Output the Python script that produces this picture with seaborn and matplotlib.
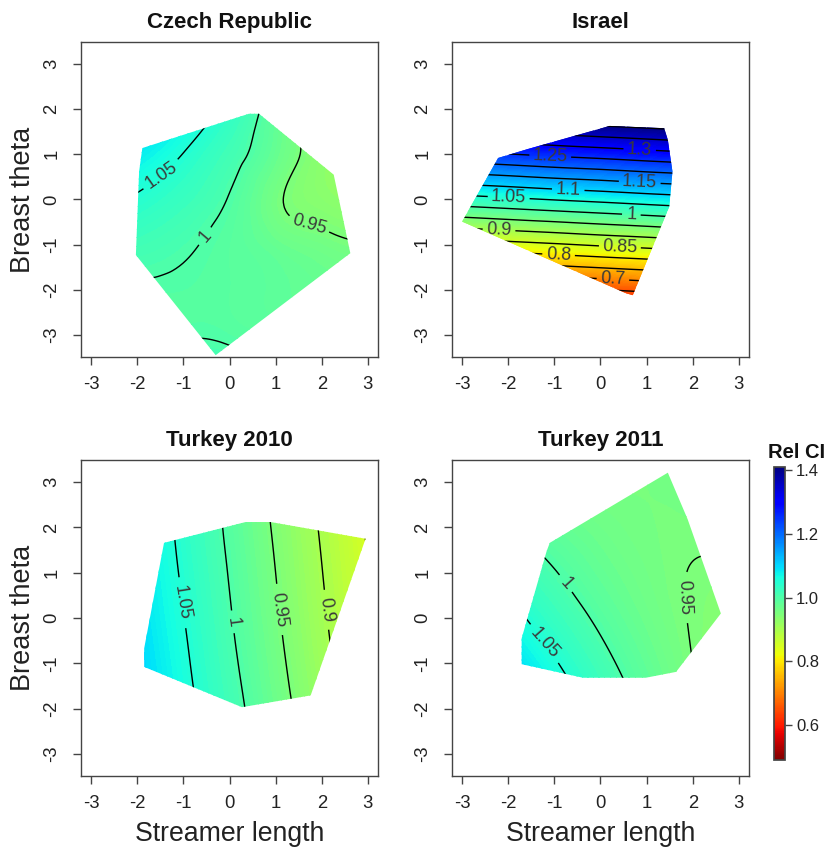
import numpy as np
import matplotlib
matplotlib.use("Agg")
import matplotlib.pyplot as plt
import matplotlib.tri as mtri
from matplotlib.patches import Polygon
from matplotlib.colors import Normalize
from matplotlib.cm import ScalarMappable
import seaborn as sns

# --- datos ---
grid_x = [-3, -2, -1, 0, 1, 2, 3]            # streamer length
grid_y = [-4, -3, -2, -1, 0, 1, 2, 3, 4]     # breast theta

# relative CI, filas = breast theta (-4..4), columnas = streamer length (-3..3)
czech_ci = [
    [1.000, 1.020, 1.034, 1.030, 1.022, 1.015, 1.010],
    [0.975, 0.988, 0.998, 0.995, 0.990, 0.986, 0.982],
    [0.991, 0.995, 0.995, 0.990, 0.983, 0.975, 0.970],
    [1.022, 1.016, 1.005, 0.990, 0.973, 0.960, 0.952],
    [1.061, 1.045, 1.024, 0.998, 0.956, 0.935, 0.925],
    [1.108, 1.081, 1.049, 1.014, 0.973, 0.932, 0.915],
    [1.162, 1.125, 1.083, 1.037, 0.980, 0.931, 0.905],
    [1.224, 1.176, 1.124, 1.068, 1.007, 0.941, 0.890],
    [1.295, 1.237, 1.174, 1.107, 1.035, 0.960, 0.879],
]
israel_ci = [
    [0.205, 0.215, 0.226, 0.236, 0.247, 0.257, 0.268],
    [0.411, 0.422, 0.432, 0.442, 0.453, 0.463, 0.474],
    [0.618, 0.628, 0.639, 0.649, 0.660, 0.670, 0.681],
    [0.824, 0.835, 0.845, 0.856, 0.866, 0.877, 0.887],
    [1.031, 1.041, 1.052, 1.062, 1.073, 1.083, 1.094],
    [1.238, 1.248, 1.259, 1.269, 1.280, 1.290, 1.300],
    [1.444, 1.455, 1.465, 1.476, 1.486, 1.497, 1.507],
    [1.651, 1.661, 1.672, 1.682, 1.693, 1.703, 1.714],
    [1.857, 1.868, 1.878, 1.889, 1.899, 1.910, 1.920],
]
turkey10_ci = [
    [1.170, 1.124, 1.078, 1.031, 0.984, 0.935, 0.886],
    [1.162, 1.117, 1.070, 1.023, 0.976, 0.927, 0.877],
    [1.155, 1.109, 1.063, 1.016, 0.968, 0.919, 0.870],
    [1.148, 1.103, 1.057, 1.009, 0.961, 0.912, 0.863],
    [1.143, 1.097, 1.051, 1.003, 0.955, 0.906, 0.856],
    [1.137, 1.092, 1.045, 0.998, 0.950, 0.901, 0.851],
    [1.133, 1.087, 1.040, 0.993, 0.945, 0.896, 0.846],
    [1.129, 1.083, 1.036, 0.989, 0.940, 0.891, 0.841],
    [1.126, 1.080, 1.033, 0.985, 0.936, 0.887, 0.837],
]
turkey11_ci = [
    [1.311, 1.230, 1.156, 1.089, 1.029, 0.976, 0.930],
    [1.256, 1.184, 1.118, 1.060, 1.008, 0.964, 0.926],
    [1.205, 1.141, 1.084, 1.034, 0.991, 0.955, 0.926],
    [1.157, 1.102, 1.054, 1.012, 0.978, 0.950, 0.930],
    [1.113, 1.066, 1.026, 0.993, 0.967, 0.948, 0.936],
    [1.071, 1.033, 1.002, 0.977, 0.960, 0.949, 0.946],
    [1.033, 1.003, 0.980, 0.965, 0.956, 0.954, 0.959],
    [0.998, 0.977, 0.962, 0.955, 0.955, 0.961, 0.974],
    [0.967, 0.954, 0.948, 0.949, 0.957, 0.972, 0.994],
]

# envolvente convexa de los datos (streamer length, breast theta)
czech_hull_x = [-1.89, 0.42, 0.64, 2.26, 2.62, -0.30, -2.03, -1.96]
czech_hull_y = [1.14, 1.90, 1.90, 0.55, -1.19, -3.45, -1.23, 0.62]
israel_hull_x = [-3.00, -2.22, -1.57, 0.20, 1.38, 1.46, 1.56, 1.49, 0.70, 0.56]
israel_hull_y = [-0.49, 0.92, 1.12, 1.63, 1.58, 1.32, 0.62, -0.16, -2.12, -2.08]
turkey10_hull_x = [-1.42, 0.35, 0.89, 2.95, 1.76, 0.27, -1.85, -1.85]
turkey10_hull_y = [1.66, 2.12, 2.12, 1.75, -1.71, -1.97, -1.08, -0.67]
turkey11_hull_x = [-1.10, 1.46, 1.89, 2.61, 1.64, 0.98, -0.38, -1.71, -1.71, -1.17]
turkey11_hull_y = [1.66, 3.21, 2.18, 0.10, -1.19, -1.32, -1.32, -1.02, -0.45, 1.47]

contour_levels = np.round(np.arange(0.5, 1.45, 0.05), 2)
ci_min, ci_max = 0.49, 1.41

paneles = [
    ("Czech Republic", czech_ci, czech_hull_x, czech_hull_y,
     {1.05: (-1.35, 0.29), 1.0: (-0.77, -0.56), 0.95: (1.78, -0.23)}),
    ("Israel", israel_ci, israel_hull_x, israel_hull_y,
     {1.3: (0.85, 1.11), 1.25: (-1.09, 0.96), 1.15: (0.85, 0.37), 1.1: (-0.70, 0.19),
      1.05: (-1.99, 0.07), 1.0: (0.67, -0.30), 0.9: (-2.2, -0.67), 0.85: (0.42, -1.07),
      0.8: (-0.91, -1.26), 0.7: (0.27, -1.74)}),
    ("Turkey 2010", turkey10_ci, turkey10_hull_x, turkey10_hull_y,
     {1.05: (-1.06, 0.33), 1.0: (0.10, -0.08), 0.95: (1.03, 0.18), 0.9: (2.09, 0.18)}),
    ("Turkey 2011", turkey11_ci, turkey11_hull_x, turkey11_hull_y,
     {1.0: (-0.81, 0.70), 1.05: (-1.21, -0.56), 0.95: (2.10, 0.47)}),
]

# --- estilo ---
sns.set_theme(style="ticks")
plt.rcParams["font.family"] = ["Liberation Sans", "DejaVu Sans"]
plt.rcParams["axes.unicode_minus"] = False

W, H = 829, 848
fig = plt.figure(figsize=(W / 100, H / 100), dpi=100)

# posiciones de los ejes en pixeles (izq, arriba, der, abajo)
cajas = [(81, 42, 378, 357), (452, 42, 749, 357), (81, 460, 378, 776), (452, 460, 749, 776)]

cmap = plt.get_cmap("jet_r")
norm = Normalize(ci_min, ci_max)

X, Y = np.meshgrid(grid_x, grid_y)
tri = mtri.Triangulation(X.ravel(), Y.ravel())
refiner = mtri.UniformTriRefiner(tri)

for i, (nombre, ci, hx, hy, etiquetas) in enumerate(paneles):
    l, t, r, b = cajas[i]
    ax = fig.add_axes([l / W, 1 - b / H, (r - l) / W, (b - t) / H])

    tri_fino, z_fino = refiner.refine_field(np.asarray(ci).ravel(), subdiv=4)
    casco = Polygon(np.c_[hx, hy], closed=True, transform=ax.transData,
                    facecolor="none", edgecolor="none")

    cf = ax.tricontourf(tri_fino, z_fino, levels=np.arange(0.15, 1.95, 0.005),
                        cmap=cmap, norm=norm)
    cf.set_clip_path(casco)
    # una curva por nivel, asi cada etiqueta cae en su propio nivel
    for nivel in contour_levels:
        cs = ax.tricontour(tri_fino, z_fino, levels=[nivel], colors="black",
                           linewidths=1.0)
        cs.set_clip_path(casco)
        if float(nivel) in etiquetas and len(cs.allsegs[0]) > 0:
            ax.clabel(cs, manual=[etiquetas[float(nivel)]], inline=True,
                      inline_spacing=5, fontsize=13, colors="#3a3a3a", fmt="%g")

    ax.set_xlim(-3.22, 3.22)
    ax.set_ylim(-3.49, 3.49)
    ax.set_xticks(range(-3, 4))
    ax.set_yticks(range(-3, 4))
    ax.tick_params(direction="out", length=6, width=1, color="#444444",
                   labelcolor="#222222", labelsize=13.3)
    ax.tick_params(axis="x", pad=8)
    ax.tick_params(axis="y", labelrotation=90, pad=9)
    for lab in ax.get_yticklabels():
        lab.set_va("center")
    for sp in ax.spines.values():
        sp.set_visible(True)
        sp.set_color("#444444")
        sp.set_linewidth(1.0)
    ax.set_title(nombre, fontsize=16, fontweight="bold", pad=10, color="#111111")
    if i % 2 == 0:
        ax.set_ylabel("Breast theta", fontsize=19.5, color="#222222")
        ax.yaxis.set_label_coords(-0.152, 0.5)
    if i >= 2:
        ax.set_xlabel("Streamer length", fontsize=19.2, color="#222222")
        ax.xaxis.set_label_coords(0.5, -0.143)

# barra de color
cax = fig.add_axes([774 / W, 1 - 760 / H, 11 / W, 293 / H])
cb = fig.colorbar(ScalarMappable(norm=norm, cmap=cmap), cax=cax,
                  ticks=[0.6, 0.8, 1.0, 1.2, 1.4], format="%.1f")
cb.outline.set_edgecolor("#444444")
cb.ax.tick_params(direction="out", length=5, width=1, color="#444444",
                  labelcolor="#222222", labelsize=12, pad=3)
fig.text(768 / W, 1 - 452 / H, "Rel CI", fontsize=14.5, fontweight="bold",
         va="center", ha="left", color="#111111")

fig.savefig("out.png", dpi=100)
